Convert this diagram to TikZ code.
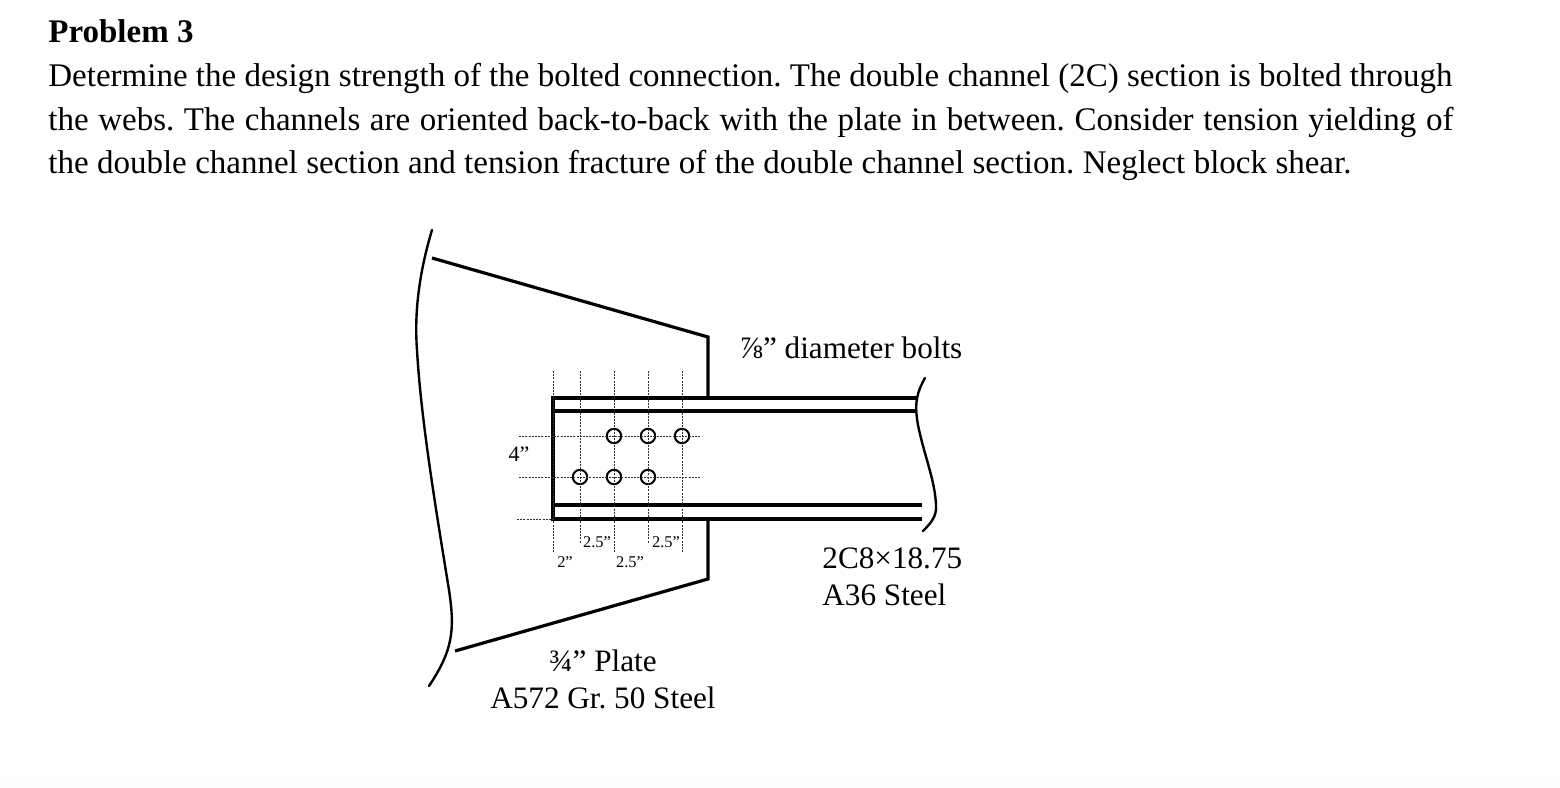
\documentclass[tikz,border=0pt]{standalone}
\usepackage{fontspec}
\setmainfont{Liberation Serif}
\frenchspacing
\usepackage{tikz}
\usetikzlibrary{positioning}
\tikzstyle{heading} = [anchor=base west, inner sep=0pt, font=\fontsize{16.5}{20}\selectfont\bfseries]
\tikzstyle{bodyline} = [anchor=base west, inner sep=0pt, font=\fontsize{16.5}{20}\selectfont]
\tikzstyle{callout} = [anchor=base, inner sep=0pt, font=\fontsize{15.6}{20}\selectfont]
\tikzstyle{dimsmall} = [anchor=base, inner sep=0pt, font=\fontsize{8.2}{9}\selectfont]
\tikzstyle{dimbig} = [anchor=base, inner sep=0pt, font=\fontsize{11}{12}\selectfont]
\tikzstyle{bolt} = [circle, draw=black, line width=1pt, minimum size=7.2pt, inner sep=0pt]
\tikzstyle{edge} = [line width=1.6pt, line join=miter]
\tikzstyle{breakline} = [line width=1.2pt, line cap=round]
\tikzstyle{gridline} = [black!80, line width=0.5pt, dash pattern=on 1pt off 0.6pt]

\begin{document}
\begin{tikzpicture}[x=0.5pt, y=-0.5pt]
	\useasboundingbox (0,0) rectangle (1560,788);
	\fill[black!1] (0,775) rectangle (1560,788);

	\node (title) [heading] at (48,42) {Problem 3};
	\node (lineA) [bodyline] at (48,86) {Determine the design strength of the bolted connection. The double channel (2C) section is bolted through};
	\node (lineB) [bodyline] at (48,130) {\hbox to 702.5pt{the webs. The channels are oriented back-to-back with the plate in between. Consider tension yielding of}};
	\node (lineC) [bodyline] at (48,173) {\hbox to 651.5pt{the double channel section and tension fracture of the double channel section. Neglect block shear.}};

	% plate
	\coordinate (plateTL) at (432,258);
	\coordinate (plateTR) at (708,337);
	\coordinate (plateTJ) at (708,398);
	\coordinate (plateBJ) at (708,519);
	\coordinate (plateBR) at (708,579);
	\coordinate (plateBL) at (455,651);
	\draw [edge] (plateTL) -- (plateTR) -- (plateTJ);
	\draw [edge] (plateBJ) -- (plateBR) -- (plateBL);

	% channel
	\coordinate (chanTL) at (553,398);
	\coordinate (chanTR) at (917,398);
	\coordinate (chanIL) at (553,411);
	\coordinate (chanIR) at (917,411);
	\coordinate (chanJL) at (553,505);
	\coordinate (chanJR) at (922,505);
	\coordinate (chanBL) at (553,519);
	\coordinate (chanBR) at (922,519);
	\draw [edge] (chanTR) -- (chanTL) -- (chanBL) -- (chanBR);
	\draw [edge] (chanIL) -- (chanIR);
	\draw [edge] (chanJL) -- (chanJR);

	% break lines
	\coordinate (cutLA) at (432,230);
	\coordinate (cutLB) at (429,686);
	\coordinate (cutRA) at (925,378);
	\coordinate (cutRB) at (923,531);
	\draw [breakline] (cutLA) .. controls (420,270) and (414,310) .. (417,350)
		.. controls (421,420) and (436,510) .. (449,590)
		.. controls (455,630) and (453,650) .. (cutLB);
	\draw [breakline] (cutRA) .. controls (917,392) and (914,403) .. (918,425)
		.. controls (924,455) and (935,480) .. (936,505)
		.. controls (937,516) and (931,523) .. (cutRB);

	% bolts
	\node (boltA) [bolt] at (614,436) {};
	\node (boltB) [bolt] at (648,436) {};
	\node (boltC) [bolt] at (682,436) {};
	\node (boltD) [bolt] at (580,477) {};
	\node (boltE) [bolt] at (614,477) {};
	\node (boltF) [bolt] at (648,477) {};

	% gauge lines
	\foreach \gx/\gend in {553/552, 580/543, 614/552, 648/543, 682/553}
		\draw [gridline] (\gx,371) -- (\gx,\gend);
	\foreach \gy in {436, 477}
		\draw [gridline] (519,\gy) -- (701,\gy);
	\draw [gridline] (517,519) -- (553,519);

	% labels
	\node (boltLabel) [callout] at (851,358) {⅞” diameter bolts};
	\node (chanLabelA) [callout, anchor=base west] at (822,568) {2C8×18.75};
	\node (chanLabelB) [callout, anchor=base west] at (822,605) {A36 Steel};
	\node (plateLabelA) [callout] at (603,671) {¾” Plate};
	\node (plateLabelB) [callout] at (603,708) {A572 Gr. 50 Steel};
	\node (dimGauge) [dimbig] at (519,461) {4”};
	\node (dimA) [dimsmall] at (565,567) {2”};
	\node (dimB) [dimsmall] at (597,547) {2.5”};
	\node (dimC) [dimsmall] at (630,567) {2.5”};
	\node (dimD) [dimsmall] at (666,547) {2.5”};
\end{tikzpicture}
\end{document}
